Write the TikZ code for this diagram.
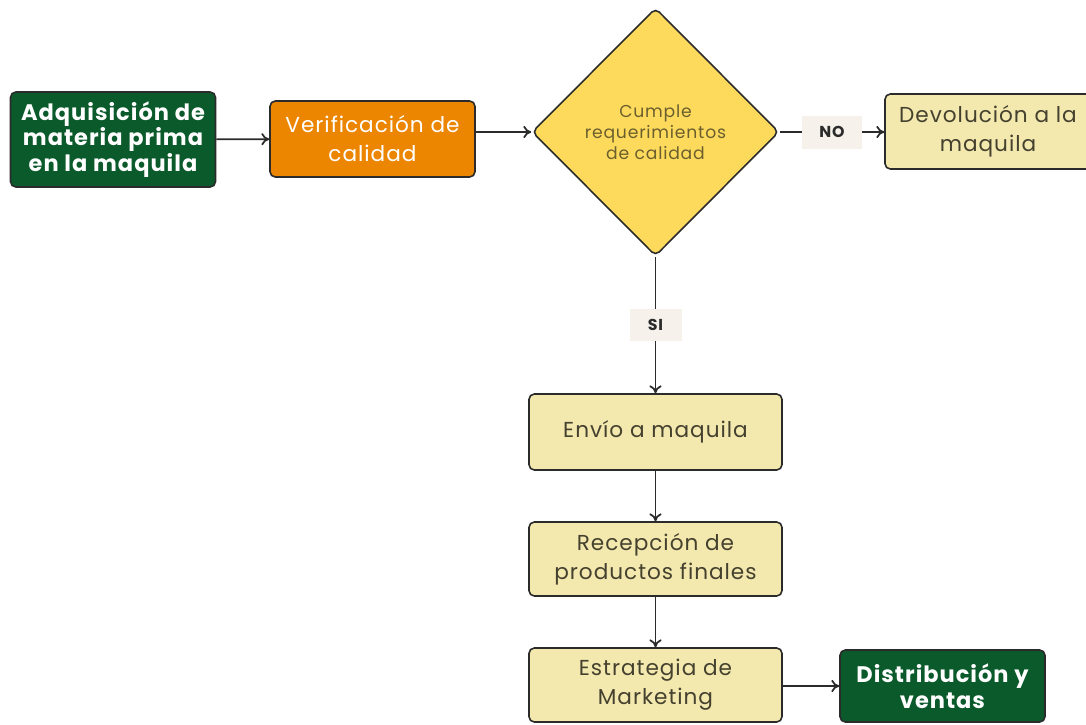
\documentclass[tikz,border=0pt]{standalone}
\usepackage{fontspec}
\setmainfont{Poppins}[LetterSpace=4.5]
\usepackage{xcolor}
\usepackage{tikz}
\usetikzlibrary{positioning,arrows.meta,shapes.geometric}

\definecolor{verdeosc}{HTML}{0B5A2B}
\definecolor{naranja}{HTML}{EC8600}
\definecolor{amarillo}{HTML}{FDDA5C}
\definecolor{crema}{HTML}{F3E8AE}
\definecolor{etiq}{HTML}{F6F2EB}
\definecolor{borde}{HTML}{2B2B2B}
\definecolor{textocrema}{HTML}{45412F}
\definecolor{textodiam}{HTML}{6B5F2E}

\begin{document}
\begin{tikzpicture}[
				x=0.02cm, y=-0.02cm,
				every node/.style={align=center, inner sep=2pt},
				caja/.style={
					rectangle, rounded corners=3pt, draw=borde, line width=0.9pt,
					minimum height=1.5cm
				},
				verde/.style={caja, fill=verdeosc, text=white, minimum width=4.1cm,
					font=\fontsize{12.8}{14.5}\selectfont\bfseries},
				naranjo/.style={caja, fill=naranja, text=white, minimum width=4.1cm,
					font=\fontsize{12.3}{16.5}\selectfont},
				paso/.style={caja, fill=crema, text=textocrema, minimum width=5.06cm,
					minimum height=1.48cm, font=\fontsize{12.3}{16.5}\selectfont},
				decision/.style={
					diamond, draw=borde, line width=0.9pt, fill=amarillo, rounded corners=3pt,
					minimum width=4.94cm, minimum height=4.96cm, inner sep=0pt,
					text=textodiam, font=\fontsize{9.8}{12}\selectfont
				},
				etiqueta/.style={fill=etiq, text=borde, minimum width=1.22cm, minimum height=0.66cm,
					font=\fontsize{9}{10}\selectfont\bfseries},
				flecha/.style={draw=borde, line width=1pt, -{To[length=4.5pt,width=7pt]}}
				]
				\useasboundingbox (0,0) rectangle (1086,724);
				
				% Fila superior
				\node[verde, minimum height=1.9cm] (adq) at (113,139.5)
					{Adquisición de\\materia prima\\en la maquila};
				\node[naranjo, minimum height=1.52cm] (verif) at (372.5,139)
					{Verificación de\\calidad};
				\node[decision] (cumple) at (655.5,132)
					{Cumple\\requerimientos\\de calidad};
				\node[paso, minimum width=4.12cm, minimum height=1.5cm] (devol) at (988,131.5)
					{Devolución a la\\maquila};
				
				% Columna central
				\node[paso, minimum height=1.52cm] (envio) at (655.5,432) {Envío a maquila};
				\node[paso] (recep) at (655.5,559) {Recepción de\\productos finales};
				\node[paso] (estrat) at (655.5,685) {Estrategia de\\Marketing};
				\node[verde, minimum height=1.44cm] (distr) at (942.5,686) {Distribución y\\ventas};
				
				% Conexiones
				\draw[flecha] (adq) -- (verif);
				\draw[flecha] (verif.east |- cumple.west) -- (cumple.west);
				\draw[flecha] (cumple.east) -- node[etiqueta] {NO} (devol.west |- cumple.east);
				\draw[flecha] (cumple.south) -- node[etiqueta, minimum width=1.04cm] {SI} (envio.north);
				\draw[flecha] (envio) -- (recep);
				\draw[flecha] (recep) -- (estrat);
				\draw[flecha] (estrat.east |- distr.west) -- (distr.west);
				
			\end{tikzpicture}
\end{document}
